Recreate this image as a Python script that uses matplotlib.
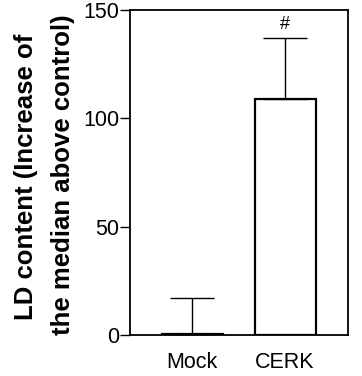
import matplotlib
matplotlib.use("Agg")
import matplotlib.pyplot as plt

categories = ["Mock", "CERK"]
values = [0.5, 109]
errors = [16.5, 28]
yticks = [0, 50, 100, 150]
annotation = "#"
ylabel_lines = ["LD content (Increase of", "the median above control)"]

W, H = 362, 376
fig = plt.figure(figsize=(W/100, H/100), dpi=100)
ax = fig.add_axes([130/W, 1-335/H, 218/W, 325/H])

x = list(range(len(categories)))
ax.bar(x, values, width=0.656, color="white", edgecolor="black", linewidth=1.6, zorder=2)
ax.errorbar(x, values, yerr=[[0]*len(values), errors], fmt="none", ecolor="black",
            elinewidth=1.0, capsize=16, capthick=1.0, zorder=3)
ax.text(1, values[1] + errors[1] + 2.5, annotation, ha="center", va="bottom",
        fontsize=13, family=["Liberation Sans", "DejaVu Sans"])

ax.set_xlim(-0.667, 1.677)
ax.set_ylim(0, 150)
ax.set_yticks(yticks)
ax.set_xticks(x)
ax.set_xticklabels(categories)
tickfont = ["Liberation Sans", "DejaVu Sans"]
for lab in ax.get_xticklabels() + ax.get_yticklabels():
    lab.set_family(tickfont)
    lab.set_fontsize(15.5)
ax.tick_params(axis="y", direction="out", length=7, width=1.0, pad=0.5)
ax.tick_params(axis="x", length=0, pad=12)
for s in ax.spines.values():
    s.set_linewidth(1.3)

# two-line rotated y label, placed by baseline
lab_font = dict(fontsize=18.5, fontweight="bold", family=["Liberation Sans", "DejaVu Sans"],
                rotation=90, rotation_mode="anchor", ha="center", va="baseline")
fig.text(33/W, 1-177/H, ylabel_lines[0], **lab_font)
fig.text(70/W, 1-175/H, ylabel_lines[1], **lab_font)

fig.savefig("out.png", dpi=100)
